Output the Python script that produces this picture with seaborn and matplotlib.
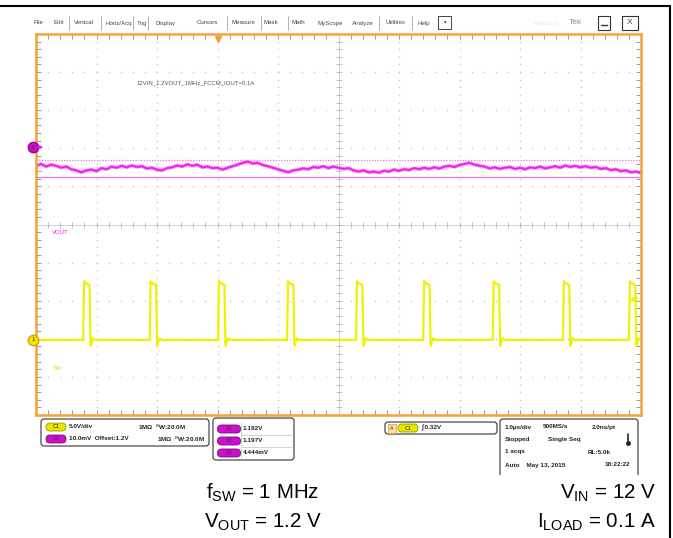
import numpy as np
import matplotlib.pyplot as plt
import seaborn as sns
from matplotlib.patches import FancyBboxPatch, Rectangle

# ---- ekrandan okunan degerler ----
# CH1 (SW) : 5 V/div, darbe yukselme anlari (us, 1 us/div)
sw_rise_us = [0.78, 1.88, 3.01, 4.15, 5.29, 6.40, 7.55, 8.71, 9.80]
sw_width_us = 0.11
sw_top_v = 7.4
sw_overshoot_v = 7.7
sw_undershoot_v = -0.8

# CH3 (VOUT) : 10 mV/div, offset 1.2 V, mV cinsinden iz
vout_mv = [1195.0, 1195.6, 1194.9, 1195.4, 1195.1, 1194.6, 1194.9, 1194.2, 1193.9, 1193.4,
           1193.9, 1194.1, 1193.7, 1194.5, 1194.2, 1194.9, 1194.6, 1195.1, 1194.7, 1195.2,
           1194.8, 1195.0, 1194.4, 1194.6, 1194.1, 1193.9, 1194.5, 1194.7, 1195.2, 1194.9,
           1195.5, 1195.1, 1195.4, 1194.7, 1194.9, 1194.5, 1194.6, 1194.1, 1194.6, 1195.0,
           1195.4, 1195.9, 1196.2, 1195.7, 1195.9, 1195.3, 1195.0, 1194.6, 1194.2, 1193.8,
           1193.4, 1193.9, 1194.1, 1194.4, 1194.2, 1194.8, 1194.6, 1195.0, 1194.5, 1194.9,
           1194.6, 1194.3, 1194.5, 1193.9, 1193.6, 1193.9, 1193.4, 1193.6, 1193.3, 1193.8,
           1193.6, 1194.1, 1193.8, 1194.2, 1194.0, 1194.5, 1194.2, 1194.6, 1194.3, 1194.7,
           1194.4, 1194.9, 1195.1, 1194.8, 1195.3, 1195.6, 1195.9, 1195.4, 1195.1, 1194.9,
           1194.4, 1194.7, 1194.3, 1194.6, 1194.8, 1194.3, 1194.6, 1194.2, 1194.7, 1194.5,
           1194.9, 1194.4, 1194.7, 1195.0, 1194.6, 1195.2, 1194.8, 1195.1, 1194.7, 1195.0,
           1194.6, 1194.8, 1194.3, 1194.5, 1194.0, 1194.2, 1193.7, 1193.9, 1193.4, 1193.6, 1193.2]
cursor_v1_mv = 1192.2
cursor_v2_mv = 1196.7

ch1_v_div = 5.0
ch1_marker_div = 1.97
ch3_mv_div = 10.0
ch3_offset_mv = 1200.0
ch3_marker_div = 7.03
trig_pos_us = 3.01
trig_level_div = 3.04

menu_items = ['File', 'Edit', 'Vertical', 'Horiz/Acq', 'Trig', 'Display', 'Cursors', 'Measure',
              'Mask', 'Math', 'MyScope', 'Analyze', 'Utilities', 'Help']
menu_x = [34, 54, 74, 105, 137, 156, 197, 231, 264, 292, 317, 352, 385, 417]
menu_sep_x = [69, 101, 133, 148, 227, 261, 288, 379, 412]

YEL = '#f0f000'
MAG = '#f01ef0'
ORANGE = '#f5a338'

sns.set_theme(style='white')
plt.rcParams['font.family'] = ['Liberation Sans', 'DejaVu Sans']
plt.rcParams['mathtext.fontset'] = 'custom'
plt.rcParams['mathtext.rm'] = 'Liberation Sans'

fig = plt.figure(figsize=(6.73, 5.38), dpi=100, facecolor='white')

# piksel koordinatli katman (arayuz parcalari icin)
ov = fig.add_axes([0, 0, 1, 1])
ov.set_xlim(0, 673)
ov.set_ylim(538, 0)
ov.axis('off')

ov.plot([0, 670], [6, 6], color='black', lw=1.5)
ov.plot([670, 670], [6, 538], color='black', lw=1.5)

# menu cubugu
for s, x in zip(menu_items, menu_x):
    ov.text(x, 23, s, fontsize=4.4, color='#444444', va='center')
for x in menu_sep_x:
    ov.plot([x, x], [16, 30], color='#9aa6c0', lw=0.6)
ov.add_patch(Rectangle((438, 16), 13, 13, fill=False, ec='#444444', lw=0.7))
ov.text(444.5, 22.5, '•', fontsize=5, ha='center', va='center', color='#333333')
ov.text(533, 23, 'Application', fontsize=3.8, color='#e6e6e6', va='center')
ov.text(569, 23, 'Tek', fontsize=6, color='#8a8a8a', va='center')
ov.add_patch(Rectangle((598, 16), 12, 14, fill=False, ec='#333333', lw=0.8))
ov.plot([601, 607], [25, 25], color='#333333', lw=1)
ov.add_patch(Rectangle((622, 16), 16, 14, fill=False, ec='#333333', lw=0.8))
ov.text(630, 23, 'X', fontsize=6, ha='center', va='center', color='#333333')

# ---- osiloskop ekrani ----
ax = fig.add_axes([36 / 673, 1 - 415 / 538, 605 / 673, 381 / 538])
ax.patch.set_visible(False)
ax.set_xlim(0, 10)
ax.set_ylim(0, 10)
for sp in ax.spines.values():
    sp.set_color(ORANGE)
    sp.set_linewidth(1.8)
ax.set_xticks(np.arange(0, 11, 1))
ax.set_yticks(np.arange(0, 11, 1))
ax.set_xticks(np.arange(0, 10.01, 0.2), minor=True)
ax.set_yticks(np.arange(0, 10.01, 0.2), minor=True)
ax.tick_params(which='both', direction='in', length=3.5, width=0.7, color='#9a9a9a',
               top=True, right=True, bottom=True, left=True,
               labelbottom=False, labelleft=False)

minor = np.arange(0, 10.01, 0.2)
for g in [1, 2, 3, 4, 6, 7, 8, 9]:
    ax.plot(np.full(len(minor), g), minor, ls='none', marker='s', ms=1.0, mew=0, color='#c4c4c4')
    ax.plot(minor, np.full(len(minor), g), ls='none', marker='s', ms=1.0, mew=0, color='#c4c4c4')
ax.axvline(5, color='#d2d2d2', lw=0.7)
ax.axhline(5, color='#d2d2d2', lw=0.7)
ax.plot(minor, np.full(len(minor), 5), ls='none', marker='|', ms=4, mew=0.6, color='#b5b5b5')
ax.plot(np.full(len(minor), 5), minor, ls='none', marker='_', ms=4, mew=0.6, color='#b5b5b5')

# CH1 darbe dizisi
sw_t, sw_v = [0.0], [0.0]
for r in sw_rise_us:
    f = r + sw_width_us
    sw_t += [r, r + 0.015, r + 0.035, r + 0.08, f - 0.005, f + 0.012, f + 0.05, f + 0.09]
    sw_v += [0.0, sw_overshoot_v, sw_top_v + 0.1, sw_top_v - 0.1, sw_top_v - 0.2,
             sw_undershoot_v, 0.2, 0.0]
sw_t.append(10.0)
sw_v.append(0.0)
sw_div = ch1_marker_div + np.array(sw_v) / ch1_v_div
sns.lineplot(x=sw_t, y=sw_div, ax=ax, color=YEL, lw=1.6, estimator=None, sort=False)

# CH3 VOUT izi
t_vout = np.linspace(0, 10, len(vout_mv))
vout_div = ch3_marker_div + (np.array(vout_mv) - ch3_offset_mv) / ch3_mv_div
sns.lineplot(x=t_vout, y=vout_div, ax=ax, color=MAG, lw=2.5, alpha=0.55, estimator=None, sort=False)
sns.lineplot(x=t_vout, y=vout_div, ax=ax, color=MAG, lw=1.3, estimator=None, sort=False)

# imlecler
ax.axhline(ch3_marker_div + (cursor_v2_mv - ch3_offset_mv) / ch3_mv_div,
           color='#f070f0', lw=0.9, ls=(0, (1, 1.2)))
ax.axhline(ch3_marker_div + (cursor_v1_mv - ch3_offset_mv) / ch3_mv_div,
           color='#f070f0', lw=0.9)

# kanal isaretleri
ax.plot([-0.05], [ch3_marker_div], marker='o', ms=7.5, color='#cc11cc', mec='#a000a0',
        clip_on=False, zorder=6)
ax.text(-0.05, ch3_marker_div, '3', fontsize=4.5, ha='center', va='center', color='#333333',
        zorder=7, clip_on=False)
ax.annotate('', xy=(0.16, ch3_marker_div), xytext=(0.03, ch3_marker_div),
            arrowprops=dict(arrowstyle='-|>', color=MAG, lw=0.8, mutation_scale=5),
            annotation_clip=False, zorder=6)
ax.plot([-0.05], [ch1_marker_div], marker='o', ms=7.5, color='#f5e800', mec='#e0a000',
        clip_on=False, zorder=6)
ax.text(-0.05, ch1_marker_div, '1', fontsize=4.5, ha='center', va='center', color='#333333',
        zorder=7, clip_on=False)
ax.plot([trig_pos_us], [9.88], marker='v', ms=5, color=ORANGE, clip_on=False, zorder=6)
ax.plot([9.86], [trig_level_div], marker='<', ms=4, color=YEL, clip_on=False, zorder=6)

ax.text(0.27, 4.74, 'VOUT', fontsize=4.3, color=MAG)
ax.text(0.28, 1.18, 'SW', fontsize=4.3, color='#d8d800')
ov.text(137, 83, '12VIN_1.2VOUT_1MHz_FCCM_IOUT=0.1A', fontsize=4.3, color='#555555', va='center')

# ---- alt bilgi kutulari ----
def rbox(x0, y0, x1, y1):
    ov.add_patch(FancyBboxPatch((x0, y0), x1 - x0, y1 - y0,
                                boxstyle='round,pad=0,rounding_size=3',
                                fill=False, ec='#333333', lw=0.8))


def pill(xc, yc, label, fc, ec, w=20):
    ov.add_patch(FancyBboxPatch((xc - w / 2, yc - 4), w, 8,
                                boxstyle='round,pad=0,rounding_size=4', fc=fc, ec=ec, lw=0.6))
    ov.text(xc, yc, label, fontsize=3.8, ha='center', va='center', color='#333333')


ui = dict(fontsize=4.6, color='#222222', va='center', fontweight='bold')

rbox(41, 419, 209, 446)
pill(56, 427, 'C1', '#e6e600', '#9a9a00')
ov.text(69, 427, '5.0V/div', **ui)
ov.text(138, 427, '1MΩ  $^{B}$W:20.0M', **ui)
pill(56, 439, 'C3', '#cc11cc', '#880088')
ov.text(69, 439, '10.0mV  Offset:1.2V', **ui)
ov.text(157, 439, '1MΩ  $^{B}$W:20.0M', **ui)

rbox(213, 418, 294, 460)
for y in [435, 447]:
    ov.plot([241, 291], [y, y], color='#cccccc', lw=0.6)
ov.plot([241, 241], [422, 458], color='#cccccc', lw=0.6)
for y, lab, val in zip([429, 441, 453], ['V1', 'V2', 'ΔV'], ['1.192V', '1.197V', '4.444mV']):
    pill(229, y, lab, '#cc11cc', '#880088', w=23)
    ov.text(243, y, val, **ui)

rbox(385, 422, 497, 434)
ov.add_patch(Rectangle((388, 423.5), 8, 9, fc='#f8e0b0', ec=ORANGE, lw=0.7))
ov.text(392, 428, 'A', fontsize=3.8, ha='center', va='center', color='#333333')
pill(408, 428, 'C1', '#e6e600', '#9a9a00')
ov.text(421, 428, '∫ 0.32V', **ui)

ov.add_patch(FancyBboxPatch((500, 419), 138, 70, boxstyle='round,pad=0,rounding_size=3',
                            fill=False, ec='#333333', lw=0.8))
ov.add_patch(Rectangle((495, 475), 150, 20, fc='white', ec='none', zorder=3))
ov.text(505, 427, '1.0µs/div', **ui)
ov.text(543, 427, '500MS/s', **ui)
ov.text(592, 427, '2.0ns/pt', **ui)
ov.text(505, 439, 'Stopped', **ui)
ov.text(548, 439, 'Single Seq', **ui)
ov.plot([628, 628], [434, 442], color='#222222', lw=1.2)
ov.plot([628], [443], marker='o', ms=2.5, color='#222222')
ov.text(505, 452, '1 acqs', **ui)
ov.text(588, 452, 'RL:5.0k', **ui)
ov.text(505, 465, 'Auto    May 13, 2015', **ui)
ov.text(605, 465, '18:22:22', **ui)

# ---- test kosullari ----
cond = dict(fontsize=14.8, color='black', va='center', zorder=5)
ov.text(263, 493, r'f$_{\mathrm{SW}}$ = 1 MHz', ha='center', **cond)
ov.text(263, 522, r'V$_{\mathrm{OUT}}$ = 1.2 V', ha='center', **cond)
ov.text(656, 493, r'V$_{\mathrm{IN}}$ = 12 V', ha='right', **cond)
ov.text(656, 522, r'I$_{\mathrm{LOAD}}$ = 0.1 A', ha='right', **cond)

fig.savefig('out.png', dpi=100, facecolor='white')
plt.close()
